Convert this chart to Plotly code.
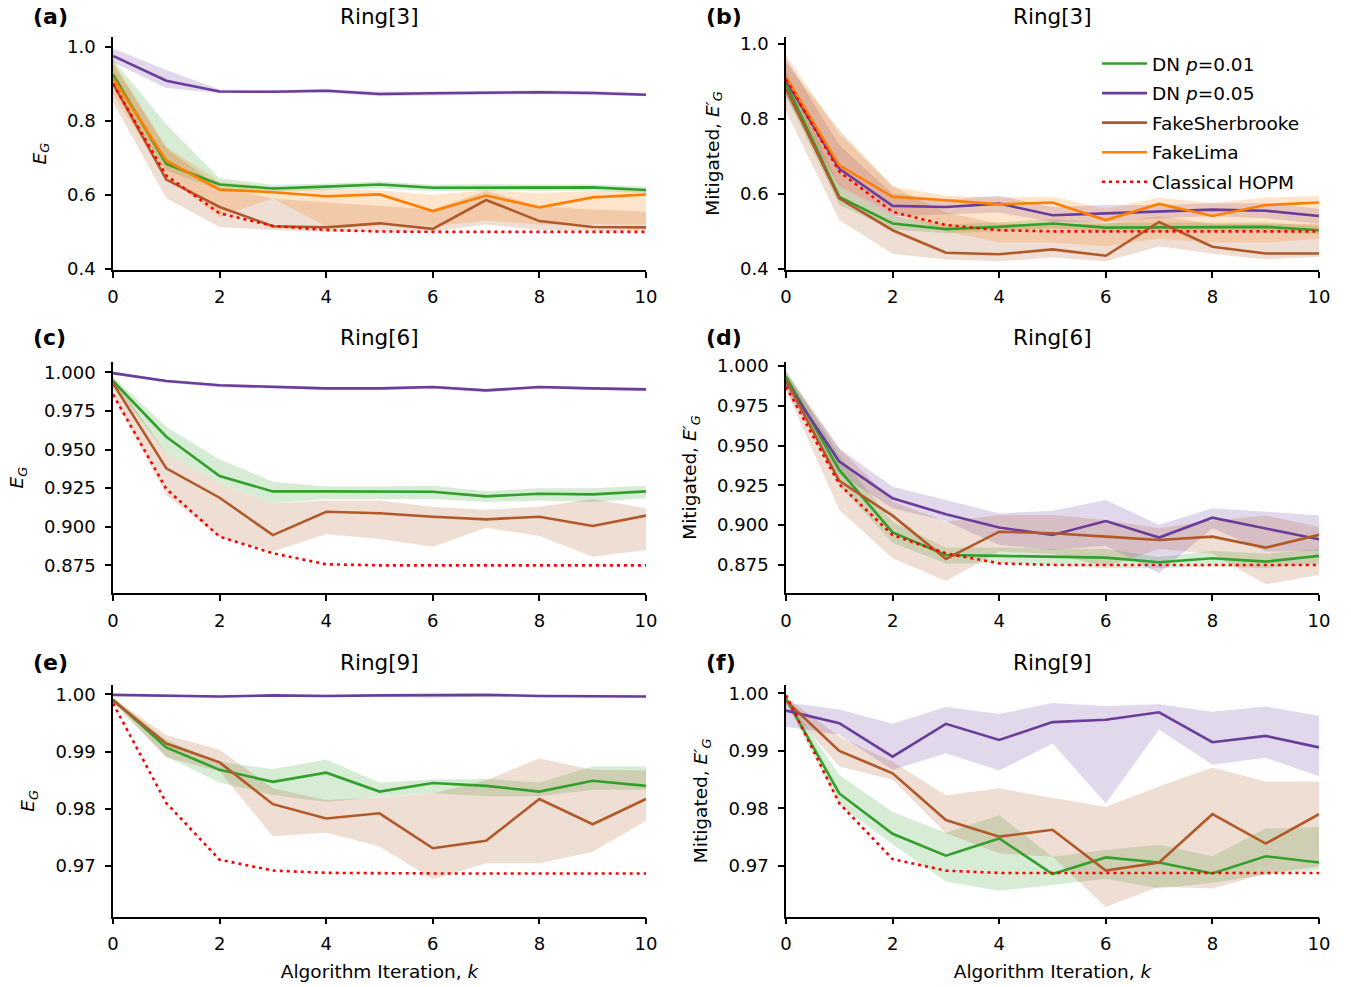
import plotly.graph_objects as go

# ---------------- data ----------------
K = list(range(11))

# Panel (a) Ring[3]  E_G
A_DN01 = [0.925, 0.683, 0.628, 0.617, 0.622, 0.628, 0.619, 0.620, 0.620, 0.620, 0.613]
A_DN01_LO = [0.890, 0.665, 0.612, 0.608, 0.612, 0.617, 0.610, 0.611, 0.611, 0.611, 0.605]
A_DN01_HI = [0.965, 0.790, 0.645, 0.627, 0.630, 0.636, 0.627, 0.629, 0.628, 0.628, 0.622]
A_DN05 = [0.975, 0.908, 0.879, 0.878, 0.881, 0.872, 0.874, 0.875, 0.877, 0.875, 0.870]
A_DN05_LO = [0.958, 0.888, 0.874, 0.874, 0.876, 0.866, 0.869, 0.870, 0.872, 0.870, 0.866]
A_DN05_HI = [0.995, 0.937, 0.884, 0.882, 0.886, 0.878, 0.879, 0.880, 0.882, 0.880, 0.875]
A_SHER = [0.901, 0.641, 0.567, 0.515, 0.512, 0.523, 0.508, 0.586, 0.529, 0.513, 0.512]
A_SHER_LO = [0.850, 0.591, 0.513, 0.505, 0.500, 0.500, 0.500, 0.520, 0.505, 0.502, 0.502]
A_SHER_HI = [0.955, 0.726, 0.620, 0.590, 0.580, 0.570, 0.560, 0.610, 0.570, 0.560, 0.555]
A_LIMA = [0.916, 0.692, 0.614, 0.607, 0.596, 0.601, 0.556, 0.598, 0.566, 0.593, 0.601]
A_LIMA_LO = [0.870, 0.649, 0.541, 0.590, 0.515, 0.525, 0.515, 0.530, 0.520, 0.520, 0.520]
A_LIMA_HI = [0.960, 0.730, 0.636, 0.620, 0.615, 0.612, 0.600, 0.612, 0.605, 0.610, 0.612]
A_HOPM = [0.900, 0.652, 0.550, 0.516, 0.505, 0.501, 0.500, 0.500, 0.500, 0.500, 0.500]

# Panel (b) Ring[3]  mitigated
B_DN01 = [0.893, 0.592, 0.521, 0.506, 0.512, 0.521, 0.510, 0.510, 0.512, 0.512, 0.503]
B_DN01_LO = [0.860, 0.570, 0.505, 0.495, 0.500, 0.508, 0.498, 0.498, 0.500, 0.500, 0.492]
B_DN01_HI = [0.930, 0.620, 0.540, 0.518, 0.524, 0.533, 0.522, 0.522, 0.524, 0.524, 0.514]
B_DN05 = [0.902, 0.667, 0.568, 0.565, 0.574, 0.543, 0.548, 0.552, 0.558, 0.555, 0.541]
B_DN05_LO = [0.860, 0.620, 0.540, 0.545, 0.550, 0.525, 0.525, 0.535, 0.540, 0.535, 0.520]
B_DN05_HI = [0.960, 0.730, 0.600, 0.585, 0.595, 0.565, 0.570, 0.570, 0.575, 0.575, 0.560]
B_SHER = [0.880, 0.588, 0.503, 0.443, 0.439, 0.452, 0.435, 0.525, 0.459, 0.441, 0.441]
B_SHER_LO = [0.820, 0.530, 0.440, 0.425, 0.420, 0.430, 0.420, 0.460, 0.440, 0.425, 0.432]
B_SHER_HI = [0.950, 0.770, 0.620, 0.550, 0.520, 0.520, 0.520, 0.540, 0.520, 0.520, 0.520]
B_LIMA = [0.911, 0.676, 0.592, 0.583, 0.572, 0.577, 0.530, 0.573, 0.541, 0.570, 0.577]
B_LIMA_LO = [0.870, 0.620, 0.550, 0.500, 0.470, 0.470, 0.460, 0.480, 0.470, 0.470, 0.480]
B_LIMA_HI = [0.970, 0.760, 0.620, 0.595, 0.590, 0.592, 0.560, 0.590, 0.575, 0.590, 0.595]
B_HOPM = [0.905, 0.659, 0.552, 0.517, 0.503, 0.500, 0.500, 0.500, 0.500, 0.500, 0.500]

# Panel (c) Ring[6]  E_G
C_DN01 = [0.9944, 0.9583, 0.9328, 0.9229, 0.9229, 0.9229, 0.9227, 0.9197, 0.9214, 0.9210, 0.9229]
C_DN01_LO = [0.9920, 0.9475, 0.9280, 0.9151, 0.9180, 0.9180, 0.9180, 0.9160, 0.9170, 0.9160, 0.9185]
C_DN01_HI = [0.9970, 0.9648, 0.9436, 0.9292, 0.9260, 0.9260, 0.9265, 0.9230, 0.9250, 0.9250, 0.9265]
C_DN05 = [0.9995, 0.9944, 0.9916, 0.9907, 0.9896, 0.9896, 0.9905, 0.9883, 0.9905, 0.9896, 0.9890]
C_DN05_LO = [0.9985, 0.9932, 0.9904, 0.9895, 0.9884, 0.9884, 0.9893, 0.9871, 0.9893, 0.9884, 0.9878]
C_DN05_HI = [1.0002, 0.9952, 0.9924, 0.9915, 0.9904, 0.9904, 0.9913, 0.9891, 0.9913, 0.9904, 0.9898]
C_SHER = [0.9929, 0.9378, 0.9188, 0.8946, 0.9097, 0.9087, 0.9065, 0.9048, 0.9065, 0.9005, 0.9072]
C_SHER_LO = [0.9850, 0.9205, 0.8930, 0.8840, 0.8953, 0.8920, 0.8870, 0.8994, 0.8940, 0.8806, 0.8850]
C_SHER_HI = [0.9970, 0.9475, 0.9280, 0.9150, 0.9170, 0.9170, 0.9130, 0.9110, 0.9130, 0.9180, 0.9120]
C_HOPM = [0.9857, 0.9245, 0.8936, 0.8828, 0.8757, 0.8750, 0.8750, 0.8750, 0.8750, 0.8750, 0.8750]

# Panel (d) Ring[6]  mitigated
D_DN01 = [0.9933, 0.9347, 0.8955, 0.8813, 0.8807, 0.8802, 0.8796, 0.8767, 0.8792, 0.8771, 0.8807]
D_DN01_LO = [0.9880, 0.9250, 0.8890, 0.8760, 0.8760, 0.8750, 0.8730, 0.8730, 0.8740, 0.8730, 0.8760]
D_DN01_HI = [0.9970, 0.9440, 0.9020, 0.8860, 0.8860, 0.8850, 0.8850, 0.8800, 0.8840, 0.8820, 0.8850]
D_DN05 = [0.9900, 0.9400, 0.9169, 0.9068, 0.8985, 0.8938, 0.9026, 0.8922, 0.9047, 0.8980, 0.8911]
D_DN05_LO = [0.9850, 0.9320, 0.9106, 0.9026, 0.8876, 0.8844, 0.8870, 0.8698, 0.8980, 0.8835, 0.8840]
D_DN05_HI = [0.9950, 0.9480, 0.9242, 0.9158, 0.9074, 0.9090, 0.9158, 0.9002, 0.9106, 0.9085, 0.9060]
D_SHER = [0.9912, 0.9278, 0.9060, 0.8788, 0.8959, 0.8949, 0.8928, 0.8907, 0.8928, 0.8859, 0.8939]
D_SHER_LO = [0.9850, 0.9096, 0.8792, 0.8650, 0.8834, 0.8820, 0.8740, 0.8850, 0.8820, 0.8629, 0.8687]
D_SHER_HI = [0.9970, 0.9483, 0.9148, 0.9022, 0.9064, 0.9064, 0.9033, 0.8980, 0.9030, 0.9060, 0.8990]
D_HOPM = [0.9870, 0.9257, 0.8938, 0.8823, 0.8760, 0.8750, 0.8750, 0.8750, 0.8750, 0.8750, 0.8750]

# Panel (e) Ring[9]  E_G
E_DN01 = [0.9991, 0.9907, 0.9868, 0.9847, 0.9863, 0.9830, 0.9845, 0.9840, 0.9830, 0.9849, 0.9840]
E_DN01_LO = [0.9988, 0.9891, 0.9846, 0.9824, 0.9812, 0.9821, 0.9827, 0.9822, 0.9822, 0.9833, 0.9833]
E_DN01_HI = [0.9994, 0.9920, 0.9882, 0.9869, 0.9886, 0.9846, 0.9851, 0.9852, 0.9846, 0.9874, 0.9874]
E_DN05 = [0.9999, 0.9998, 0.9996, 0.9998, 0.9997, 0.9998, 0.9998, 0.9999, 0.9997, 0.9997, 0.9996]
E_DN05_LO = [0.9997, 0.9996, 0.9994, 0.9996, 0.9995, 0.9996, 0.9994, 0.9997, 0.9995, 0.9995, 0.9994]
E_DN05_HI = [1.0000, 0.9999, 0.9998, 0.9999, 0.9999, 0.9999, 0.9999, 1.0000, 0.9999, 0.9999, 0.9998]
E_SHER = [0.9989, 0.9914, 0.9881, 0.9808, 0.9783, 0.9792, 0.9731, 0.9744, 0.9817, 0.9773, 0.9817]
E_SHER_LO = [0.9985, 0.9890, 0.9865, 0.9752, 0.9758, 0.9734, 0.9677, 0.9705, 0.9705, 0.9725, 0.9779]
E_SHER_HI = [0.9993, 0.9929, 0.9903, 0.9836, 0.9815, 0.9820, 0.9827, 0.9850, 0.9888, 0.9868, 0.9867]
E_HOPM = [0.9984, 0.9810, 0.9711, 0.9692, 0.9688, 0.9687, 0.9687, 0.9687, 0.9687, 0.9687, 0.9687]

# Panel (f) Ring[9]  mitigated
F_DN01 = [0.9991, 0.9826, 0.9756, 0.9718, 0.9748, 0.9686, 0.9715, 0.9706, 0.9687, 0.9717, 0.9706]
F_DN01_LO = [0.9985, 0.9806, 0.9738, 0.9673, 0.9657, 0.9667, 0.9678, 0.9661, 0.9671, 0.9685, 0.9693]
F_DN01_HI = [0.9995, 0.9858, 0.9794, 0.9758, 0.9788, 0.9716, 0.9728, 0.9737, 0.9717, 0.9765, 0.9768]
F_DN05 = [0.9970, 0.9948, 0.9890, 0.9947, 0.9919, 0.9950, 0.9954, 0.9967, 0.9915, 0.9926, 0.9906]
F_DN05_LO = [0.9942, 0.9928, 0.9867, 0.9896, 0.9866, 0.9913, 0.9809, 0.9937, 0.9876, 0.9888, 0.9856]
F_DN05_HI = [0.9984, 0.9972, 0.9947, 0.9976, 0.9964, 0.9983, 0.9978, 0.9981, 0.9968, 0.9977, 0.9961]
F_SHER = [0.9987, 0.9900, 0.9861, 0.9780, 0.9751, 0.9763, 0.9692, 0.9706, 0.9790, 0.9739, 0.9790]
F_SHER_LO = [0.9980, 0.9873, 0.9850, 0.9757, 0.9722, 0.9716, 0.9629, 0.9664, 0.9661, 0.9687, 0.9699]
F_SHER_HI = [0.9993, 0.9925, 0.9881, 0.9823, 0.9835, 0.9818, 0.9803, 0.9838, 0.9871, 0.9847, 0.9847]
F_HOPM = [0.9997, 0.9809, 0.9712, 0.9692, 0.9688, 0.9688, 0.9688, 0.9688, 0.9688, 0.9688, 0.9688]

SERIES_NAMES = ["DN <i>p</i>=0.01", "DN <i>p</i>=0.05", "FakeSherbrooke", "FakeLima", "Classical HOPM"]
PANEL_LABELS = ["(a)", "(b)", "(c)", "(d)", "(e)", "(f)"]
PANEL_TITLES = ["Ring[3]", "Ring[3]", "Ring[6]", "Ring[6]", "Ring[9]", "Ring[9]"]
X_TICKS = [0, 2, 4, 6, 8, 10]

# ---------------- style ----------------
COLORS = {"dn01": "#33a02c", "dn05": "#6a3d9a", "sher": "#b15928", "lima": "#ff7f00", "hopm": "#ff0000"}
FILLS = {"dn01": "rgba(51,160,44,0.2)", "dn05": "rgba(106,61,154,0.2)",
         "sher": "rgba(177,89,40,0.2)", "lima": "rgba(255,127,0,0.2)"}
FONT = "DejaVu Sans"
W, H = 1351, 987

panels = [
    dict(series=[("dn01", A_DN01, A_DN01_LO, A_DN01_HI), ("dn05", A_DN05, A_DN05_LO, A_DN05_HI),
                 ("sher", A_SHER, A_SHER_LO, A_SHER_HI), ("lima", A_LIMA, A_LIMA_LO, A_LIMA_HI)],
         hopm=A_HOPM, yrange=[0.397, 1.026], dtick=0.2, tick0=0.4, fmt=".1f", ylab="<i>E</i><sub><i>G</i></sub>"),
    dict(series=[("dn01", B_DN01, B_DN01_LO, B_DN01_HI), ("dn05", B_DN05, B_DN05_LO, B_DN05_HI),
                 ("sher", B_SHER, B_SHER_LO, B_SHER_HI), ("lima", B_LIMA, B_LIMA_LO, B_LIMA_HI)],
         hopm=B_HOPM, yrange=[0.397, 1.018], dtick=0.2, tick0=0.4, fmt=".1f",
         ylab="Mitigated, <i>E′</i><sub><i>G</i></sub>"),
    dict(series=[("dn01", C_DN01, C_DN01_LO, C_DN01_HI), ("dn05", C_DN05, C_DN05_LO, C_DN05_HI),
                 ("sher", C_SHER, C_SHER_LO, C_SHER_HI)],
         hopm=C_HOPM, yrange=[0.8569, 1.0069], dtick=0.025, tick0=0.875, fmt=".3f", ylab="<i>E</i><sub><i>G</i></sub>"),
    dict(series=[("dn01", D_DN01, D_DN01_LO, D_DN01_HI), ("dn05", D_DN05, D_DN05_LO, D_DN05_HI),
                 ("sher", D_SHER, D_SHER_LO, D_SHER_HI)],
         hopm=D_HOPM, yrange=[0.8572, 1.0027], dtick=0.025, tick0=0.875, fmt=".3f",
         ylab="Mitigated, <i>E′</i><sub><i>G</i></sub>"),
    dict(series=[("dn01", E_DN01, E_DN01_LO, E_DN01_HI), ("dn05", E_DN05, E_DN05_LO, E_DN05_HI),
                 ("sher", E_SHER, E_SHER_LO, E_SHER_HI)],
         hopm=E_HOPM, yrange=[0.96114, 1.00162], dtick=0.01, tick0=0.97, fmt=".2f", ylab="<i>E</i><sub><i>G</i></sub>"),
    dict(series=[("dn01", F_DN01, F_DN01_LO, F_DN01_HI), ("dn05", F_DN05, F_DN05_LO, F_DN05_HI),
                 ("sher", F_SHER, F_SHER_LO, F_SHER_HI)],
         hopm=F_HOPM, yrange=[0.9612, 1.00144], dtick=0.01, tick0=0.97, fmt=".2f",
         ylab="Mitigated, <i>E′</i><sub><i>G</i></sub>"),
]

COL_PX = [(113, 646), (786, 1319)]
ROW_PX = [(37, 270), (361.7, 593.3), (685, 916.7)]
LABEL_Y_PX = [17, 338, 662]
LABEL_X_PX = [31, 704]

fig = go.Figure()
layout = dict(width=W, height=H, margin=dict(l=0, r=0, t=0, b=0, pad=0), autosize=False,
              paper_bgcolor="white", plot_bgcolor="white",
              font=dict(family=FONT, size=18, color="black"), annotations=[])

legend_keys = ["dn01", "dn05", "sher", "lima"]

for i, p in enumerate(panels):
    r, c = divmod(i, 2)
    ax = "" if i == 0 else str(i + 1)
    xref, yref = "x" + ax, "y" + ax
    x0, x1 = COL_PX[c]
    t0, b0 = ROW_PX[r]
    layout["xaxis" + ax] = dict(
        domain=[x0 / W, x1 / W], anchor=yref, range=[0, 10], tickmode="array", tickvals=X_TICKS,
        automargin=False, ticklabelstandoff=4,
        showline=True, linecolor="black", linewidth=1.5, ticks="outside", ticklen=6, tickwidth=1.5,
        tickcolor="black", showgrid=False, zeroline=False, tickfont=dict(size=18),
        title=dict(text="Algorithm Iteration, <i>k</i>" if r == 2 else "", font=dict(size=18.5), standoff=12))
    layout["yaxis" + ax] = dict(
        domain=[1 - b0 / H, 1 - t0 / H], anchor=xref, range=p["yrange"], tick0=p["tick0"], dtick=p["dtick"],
        automargin=False, ticklabelstandoff=6,
        tickformat=p["fmt"], showline=True, linecolor="black", linewidth=1.5, ticks="outside", ticklen=6,
        tickwidth=1.5, tickcolor="black", showgrid=False, zeroline=False, tickfont=dict(size=18),
        title=dict(text=p["ylab"], font=dict(size=18.5), standoff=16))

    # bands
    for key, mean, lo, hi in p["series"]:
        fig.add_trace(go.Scatter(x=K + K[::-1], y=list(hi) + list(lo)[::-1], fill="toself",
                                 fillcolor=FILLS[key], line=dict(width=0), mode="lines",
                                 hoverinfo="skip", showlegend=False, xaxis=xref, yaxis=yref))
    # lines
    for key, mean, lo, hi in p["series"]:
        fig.add_trace(go.Scatter(x=K, y=mean, mode="lines", line=dict(color=COLORS[key], width=2.6),
                                 name=SERIES_NAMES[legend_keys.index(key)],
                                 legendgroup=key, legendrank=legend_keys.index(key) + 1,
                                 showlegend=(i == 1), xaxis=xref, yaxis=yref))
    fig.add_trace(go.Scatter(x=K, y=p["hopm"], mode="lines",
                             line=dict(color=COLORS["hopm"], width=2.6, dash="3px,4px"),
                             name=SERIES_NAMES[4], legendgroup="hopm", legendrank=5,
                             showlegend=(i == 1), xaxis=xref, yaxis=yref))

    layout["annotations"].append(dict(text=PANEL_TITLES[i], x=(x0 + x1) / 2 / W, y=1 - LABEL_Y_PX[r] / H,
                                      xref="paper", yref="paper", showarrow=False, xanchor="center",
                                      yanchor="middle", font=dict(size=21.5)))
    layout["annotations"].append(dict(text="<b>" + PANEL_LABELS[i] + "</b>", x=LABEL_X_PX[c] / W,
                                      y=1 - LABEL_Y_PX[r] / H, xref="paper", yref="paper", showarrow=False,
                                      xanchor="left", yanchor="middle", font=dict(size=22)))

layout["legend"] = dict(x=1097 / W, y=1 - 45 / H, xanchor="left", yanchor="top", bgcolor="rgba(0,0,0,0)",
                        font=dict(size=18.5), tracegroupgap=2.5, traceorder="grouped", itemwidth=45)
fig.update_layout(**layout)
fig.write_html("out.html")
